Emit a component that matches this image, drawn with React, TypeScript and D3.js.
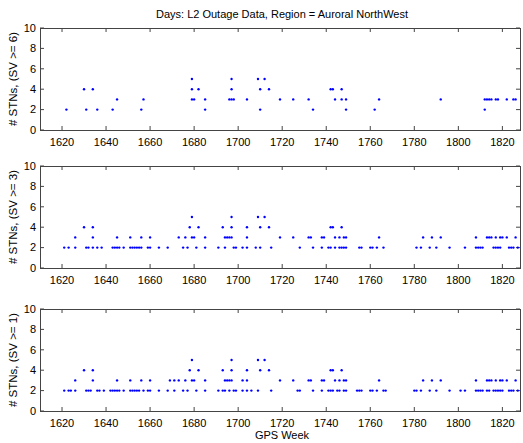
import React, { useRef, useEffect } from 'react';
import * as d3 from 'd3';

// weeks with a given station count, per panel
const sv6Count2 = [1622, 1631, 1636, 1643, 1656, 1685, 1710, 1734, 1749, 1762, 1812];
const sv6Count3 = [1645, 1657, 1679, 1680, 1685, 1696, 1697, 1698, 1704, 1719, 1725, 1732, 1744, 1747, 1749, 1764, 1792, 1812, 1813, 1814, 1815, 1817, 1818, 1822, 1825, 1826];
const sv6Count4 = [1630, 1634, 1679, 1682, 1697, 1710, 1714, 1742, 1743, 1747];
const sv6Count5 = [1679, 1697, 1709, 1712];

const sv3Count2 = [1621, 1623, 1626, 1631, 1632, 1634, 1636, 1638, 1643, 1644, 1645, 1646, 1648, 1651, 1652, 1653, 1654, 1655, 1656, 1659, 1660, 1664, 1668, 1675, 1677, 1681, 1685, 1691, 1694, 1698, 1699, 1702, 1704, 1708, 1710, 1715, 1728, 1734, 1738, 1741, 1742, 1744, 1746, 1747, 1748, 1749, 1755, 1756, 1760, 1761, 1763, 1766, 1781, 1783, 1787, 1790, 1796, 1803, 1808, 1809, 1810, 1811, 1816, 1817, 1818, 1819, 1823, 1824, 1825, 1827];
const sv3Count3 = [1626, 1634, 1645, 1651, 1656, 1660, 1673, 1676, 1679, 1680, 1685, 1694, 1695, 1696, 1697, 1704, 1719, 1725, 1732, 1733, 1738, 1739, 1744, 1746, 1748, 1749, 1764, 1784, 1788, 1792, 1808, 1813, 1814, 1815, 1817, 1819, 1820, 1822, 1826];
const sv3Count4 = [1630, 1634, 1678, 1682, 1693, 1697, 1704, 1710, 1714, 1742, 1743, 1747];
const sv3Count5 = [1679, 1697, 1709, 1712];

const sv1Count2 = [1621, 1623, 1624, 1626, 1631, 1632, 1633, 1636, 1637, 1639, 1642, 1643, 1644, 1645, 1646, 1648, 1651, 1652, 1653, 1654, 1655, 1657, 1659, 1660, 1664, 1668, 1671, 1675, 1677, 1681, 1685, 1691, 1693, 1694, 1696, 1698, 1699, 1702, 1704, 1706, 1709, 1715, 1727, 1728, 1734, 1738, 1741, 1742, 1743, 1745, 1746, 1748, 1749, 1754, 1755, 1756, 1760, 1761, 1763, 1766, 1767, 1780, 1781, 1783, 1787, 1790, 1796, 1801, 1803, 1808, 1809, 1810, 1811, 1813, 1814, 1816, 1817, 1818, 1819, 1820, 1823, 1824, 1825, 1827];
const sv1Count3 = [1626, 1634, 1645, 1651, 1656, 1660, 1669, 1671, 1673, 1676, 1679, 1680, 1685, 1694, 1695, 1696, 1697, 1702, 1704, 1719, 1725, 1732, 1733, 1738, 1739, 1744, 1746, 1748, 1749, 1764, 1784, 1788, 1792, 1808, 1813, 1814, 1815, 1817, 1819, 1820, 1822, 1826];
const sv1Count4 = [1630, 1634, 1678, 1682, 1693, 1697, 1704, 1710, 1714, 1742, 1743, 1747];
const sv1Count5 = [1679, 1697, 1709, 1712];

const xTicks = [1620, 1640, 1660, 1680, 1700, 1720, 1740, 1760, 1780, 1800, 1820];
const yTicks = [0, 2, 4, 6, 8, 10];

const panelLabels = ['# STNs, (SV >= 6)', '# STNs, (SV >= 3)', '# STNs, (SV >= 1)'];

function toPoints(groups: number[][]) {
    const pts: { week: number, count: number }[] = [];
    groups.forEach((weeks, i) => weeks.forEach(w => pts.push({ week: w, count: i + 2 })));
    return pts;
}

const panels = [
    toPoints([sv6Count2, sv6Count3, sv6Count4, sv6Count5]),
    toPoints([sv3Count2, sv3Count3, sv3Count4, sv3Count5]),
    toPoints([sv1Count2, sv1Count3, sv1Count4, sv1Count5]),
];

function App() {
    const ref = useRef<SVGSVGElement>(null);

    useEffect(() => {
        const width = 523, height = 443;
        const left = 40, right = 520;
        const tops = [28, 166, 309];
        const plotH = 102;
        const font = 'Arial, "Liberation Sans", sans-serif';

        const svg = d3.select(ref.current)
            .attr('width', width)
            .attr('height', height);
        svg.selectAll('*').remove();

        svg.append('rect').attr('width', width).attr('height', height).attr('fill', '#fff');

        const x = d3.scaleLinear().domain([1610, 1828]).range([left, right]);

        svg.append('text')
            .attr('x', 282)
            .attr('y', 18)
            .attr('text-anchor', 'middle')
            .style('font-family', font)
            .style('font-size', '11px')
            .text('Days: L2 Outage Data, Region = Auroral NorthWest');

        panels.forEach((pts, i) => {
            const top = tops[i];
            const y = d3.scaleLinear().domain([0, 10]).range([top + plotH, top]);
            const g = svg.append('g');

            // inward ticks on all four sides
            xTicks.forEach(t => {
                g.append('line').attr('x1', x(t)).attr('x2', x(t)).attr('y1', top + plotH).attr('y2', top + plotH - 4).attr('stroke', '#444');
                g.append('line').attr('x1', x(t)).attr('x2', x(t)).attr('y1', top).attr('y2', top + 4).attr('stroke', '#444');
                g.append('text')
                    .attr('x', x(t))
                    .attr('y', top + plotH + 16)
                    .attr('text-anchor', 'middle')
                    .style('font-family', font)
                    .style('font-size', '11px')
                    .text(t);
            });
            yTicks.forEach(t => {
                g.append('line').attr('x1', left).attr('x2', left + 4).attr('y1', y(t)).attr('y2', y(t)).attr('stroke', '#444');
                g.append('line').attr('x1', right).attr('x2', right - 4).attr('y1', y(t)).attr('y2', y(t)).attr('stroke', '#444');
                g.append('text')
                    .attr('x', left - 4)
                    .attr('y', y(t))
                    .attr('dy', '0.35em')
                    .attr('text-anchor', 'end')
                    .style('font-family', font)
                    .style('font-size', '11px')
                    .text(t);
            });

            g.append('rect')
                .attr('x', left + 0.5)
                .attr('y', top + 0.5)
                .attr('width', right - left)
                .attr('height', plotH)
                .attr('fill', 'none')
                .attr('stroke', '#444');

            g.selectAll('.dot')
                .data(pts)
                .enter().append('circle')
                .attr('class', 'dot')
                .attr('cx', d => x(d.week))
                .attr('cy', d => y(d.count))
                .attr('r', 1.2)
                .attr('fill', '#0000ff');

            g.append('text')
                .attr('transform', 'translate(17,' + (top + plotH / 2) + ') rotate(-90)')
                .attr('text-anchor', 'middle')
                .style('font-family', font)
                .style('font-size', '11.5px')
                .text(panelLabels[i]);
        });

        svg.append('text')
            .attr('x', 282)
            .attr('y', 439)
            .attr('text-anchor', 'middle')
            .style('font-family', font)
            .style('font-size', '11px')
            .text('GPS Week');
    }, []);

    return (
        <svg ref={ref} style={{ position: 'absolute', left: 0, top: 0 }} />
    );
}

export default App;
